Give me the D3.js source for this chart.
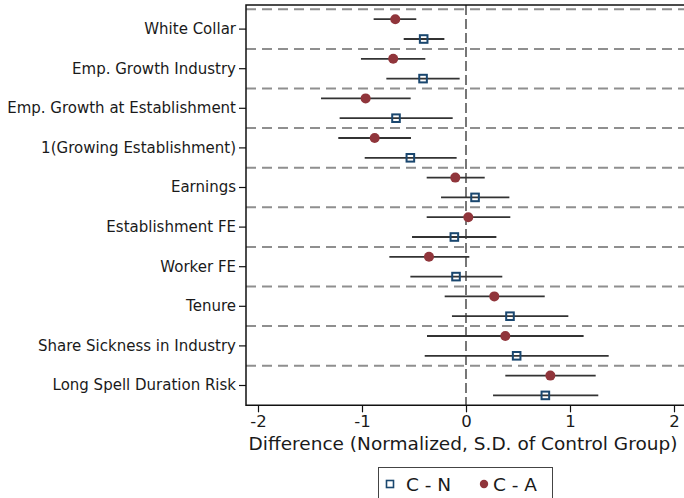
<!DOCTYPE html>
<html>
<head>
<meta charset="utf-8">
<script src="https://cdn.jsdelivr.net/npm/d3@7"></script>
<style>
  html, body { margin: 0; padding: 0; background: #fff; }
  svg { display: block; font-family: "DejaVu Sans", sans-serif; }
</style>
</head>
<body>
<svg id="chart" width="684" height="498"></svg>
<script>
// Outcome variables, top to bottom
const categories = [
  "White Collar",
  "Emp. Growth Industry",
  "Emp. Growth at Establishment",
  "1(Growing Establishment)",
  "Earnings",
  "Establishment FE",
  "Worker FE",
  "Tenure",
  "Share Sickness in Industry",
  "Long Spell Duration Risk"
];

// C - A: point estimate with 95% interval
const caEst = [-0.68, -0.70, -0.965, -0.878, -0.103, 0.022, -0.356, 0.272, 0.378, 0.811];
const caLo  = [-0.888, -1.01, -1.394, -1.228, -0.378, -0.378, -0.737, -0.205, -0.375, 0.378];
const caHi  = [-0.478, -0.391, -0.532, -0.529, 0.18, 0.426, 0.032, 0.757, 1.131, 1.247];

// C - N: point estimate with 95% interval
const cnEst = [-0.407, -0.413, -0.673, -0.535, 0.087, -0.112, -0.096, 0.423, 0.487, 0.763];
const cnLo  = [-0.599, -0.766, -1.215, -0.974, -0.240, -0.519, -0.535, -0.135, -0.397, 0.260];
const cnHi  = [-0.208, -0.061, -0.128, -0.090, 0.417, 0.292, 0.349, 0.984, 1.372, 1.272];

const xTicks = [-2, -1, 0, 1, 2];
const seriesNames = ["C - N", "C - A"];

const colCN = "#1a476f";
const colCA = "#90353b";

const svg = d3.select("#chart");

const plot = { left: 246, top: 5, right: 700, bottom: 405.3 };

const x = d3.scaleLinear().domain([-2, 2]).range([258, 674]);
const y = d3.scaleBand().domain(categories).range([9.3, 405.3]).paddingInner(0).paddingOuter(0);
const bw = y.bandwidth();

// group separators (dashed)
const bounds = categories.map(c => y(c));
svg.append("g").selectAll("line").data(bounds).join("line")
  .attr("x1", plot.left).attr("x2", plot.right)
  .attr("y1", d => d).attr("y2", d => d)
  .attr("stroke", "#8f8f8f").attr("stroke-width", 2)
  .attr("stroke-dasharray", "10,6");

// zero reference line
svg.append("line")
  .attr("x1", x(0)).attr("x2", x(0))
  .attr("y1", plot.top).attr("y2", plot.bottom)
  .attr("stroke", "#555").attr("stroke-width", 1.6)
  .attr("stroke-dasharray", "10,4");

const rows = categories.map((c, i) => ({
  c, caEst: caEst[i], caLo: caLo[i], caHi: caHi[i],
  cnEst: cnEst[i], cnLo: cnLo[i], cnHi: cnHi[i]
}));

// confidence intervals
const ci = svg.append("g").attr("stroke", "#333").attr("stroke-width", 1.8);
ci.selectAll("line.ca").data(rows).join("line").attr("class", "ca")
  .attr("x1", d => x(d.caLo)).attr("x2", d => x(d.caHi))
  .attr("y1", d => y(d.c) + bw * 0.25).attr("y2", d => y(d.c) + bw * 0.25);
ci.selectAll("line.cn").data(rows).join("line").attr("class", "cn")
  .attr("x1", d => x(d.cnLo)).attr("x2", d => x(d.cnHi))
  .attr("y1", d => y(d.c) + bw * 0.75).attr("y2", d => y(d.c) + bw * 0.75);

// point estimates
const sq = 7.6;
svg.append("g").selectAll("rect").data(rows).join("rect")
  .attr("x", d => x(d.cnEst) - sq / 2).attr("y", d => y(d.c) + bw * 0.75 - sq / 2)
  .attr("width", sq).attr("height", sq)
  .attr("fill", "none").attr("stroke", colCN).attr("stroke-width", 2);
svg.append("g").selectAll("circle").data(rows).join("circle")
  .attr("cx", d => x(d.caEst)).attr("cy", d => y(d.c) + bw * 0.25)
  .attr("r", 5).attr("fill", colCA);

// frame
svg.append("path")
  .attr("d", `M${plot.right},${plot.top}H${plot.left}V${plot.bottom}H${plot.right}`)
  .attr("fill", "none").attr("stroke", "#111").attr("stroke-width", 1.5);

// y axis labels
const yAxis = d3.axisLeft(y).tickSize(7).tickPadding(3).tickSizeOuter(0);
const gy = svg.append("g").attr("transform", `translate(${plot.left},0)`).call(yAxis);
gy.select(".domain").remove();
gy.selectAll(".tick line").attr("stroke", "#111").attr("stroke-width", 1.2);
gy.selectAll(".tick text").attr("font-family", "DejaVu Sans").attr("font-size", 15).attr("fill", "#1a1a1a");

// x axis
const xAxis = d3.axisBottom(x).tickValues(xTicks).tickFormat(d3.format("d")).tickSize(7).tickPadding(3).tickSizeOuter(0);
const gx = svg.append("g").attr("transform", `translate(0,${plot.bottom})`).call(xAxis);
gx.select(".domain").remove();
gx.selectAll(".tick line").attr("stroke", "#111").attr("stroke-width", 1.2);
gx.selectAll(".tick text").attr("font-family", "DejaVu Sans").attr("font-size", 16.5).attr("fill", "#1a1a1a")
  .text(d => d < 0 ? "-" + Math.abs(d) : String(d));

svg.append("text")
  .attr("x", 463).attr("y", 450).attr("text-anchor", "middle")
  .attr("font-size", 18.5).attr("fill", "#1a1a1a")
  .text("Difference (Normalized, S.D. of Control Group)");

// legend
const lg = svg.append("g");
lg.append("rect").attr("x", 378.5).attr("y", 467.5).attr("width", 174).attr("height", 40)
  .attr("fill", "#fff").attr("stroke", "#444").attr("stroke-width", 1);
lg.append("rect").attr("x", 386.5).attr("y", 480.5).attr("width", 7).attr("height", 7)
  .attr("fill", "none").attr("stroke", colCN).attr("stroke-width", 1.6);
lg.append("text").attr("x", 406).attr("y", 490.5).attr("font-size", 18.5).attr("fill", "#1a1a1a").text(seriesNames[0]);
lg.append("circle").attr("cx", 484).attr("cy", 484).attr("r", 4.2).attr("fill", colCA);
lg.append("text").attr("x", 493).attr("y", 490.5).attr("font-size", 18.5).attr("fill", "#1a1a1a").text(seriesNames[1]);
</script>
</body>
</html>
